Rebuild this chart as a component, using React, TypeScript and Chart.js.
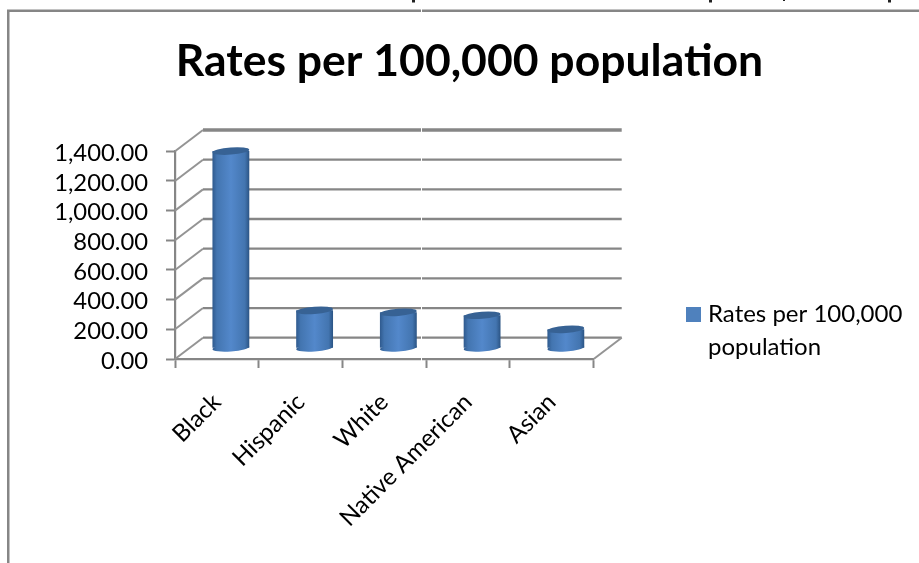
import React, { useEffect, useRef } from "react";
import { Chart, registerables } from "chart.js";

Chart.register(...registerables);

const categories = ["Black", "Hispanic", "White", "Native American", "Asian"];
const seriesName = "Rates per 100,000 population";
const legendLines = ["Rates per 100,000", "population"];
const rates = [1330, 256, 243, 223, 128];

const FONT = "Lato, Carlito, Calibri, sans-serif";
const GREY = "#868686";
const BLUE = "#4F81BD";
const DEPTH_X = 28;
const DEPTH_Y = 21.3;
const TITLE_SIZE = 44.5;
const LABEL_SIZE = 24;

const cylinderGradient = (ctx: any, cx: number, rx: number) => {
  const g = ctx.createLinearGradient(cx - rx, 0, cx + rx, 0);
  g.addColorStop(0, "#2f5a8e");
  g.addColorStop(0.12, "#4375b0");
  g.addColorStop(0.5, "#5388cb");
  g.addColorStop(0.88, "#4375b0");
  g.addColorStop(1, "#2b5484");
  return g;
};

const frame3d = {
  id: "frame3d",
  afterLayout(chart: any) {
    const t = chart.titleBlock;
    if (t) {
      t.left = 20;
      t.right = 919;
      t.top = 39.5;
    }
    const l = chart.legend;
    if (l) {
      l.left = 696;
      l.right = 919;
      l.top = 302;
      l.bottom = 563;
    }
  },
  beforeDraw(chart: any) {
    const { ctx, width, height } = chart;
    ctx.save();
    ctx.fillStyle = "#ffffff";
    ctx.fillRect(0, 0, width, height);
    ctx.strokeStyle = GREY;
    ctx.lineWidth = 2.5;
    ctx.beginPath();
    ctx.moveTo(8.25, height);
    ctx.lineTo(8.25, 10.75);
    ctx.lineTo(width, 10.75);
    ctx.stroke();
    // the feet of a cut-off line of text above the frame
    ctx.fillStyle = "#222222";
    [412, 709, 783, 888].forEach((x, i) => ctx.fillRect(x, 0, i === 2 ? 2 : 3, i === 2 ? 1 : 2.5));
    // legend swatch
    ctx.fillStyle = BLUE;
    ctx.fillRect(686, 307, 15, 15);
    ctx.restore();
  },
  beforeDatasetsDraw(chart: any) {
    const { ctx, chartArea, scales } = chart;
    const { left, right } = chartArea;
    const y = scales.y;
    ctx.save();
    ctx.strokeStyle = GREY;
    y.ticks.forEach((tick: any, i: number) => {
      const py = y.getPixelForValue(tick.value);
      const isTop = i === y.ticks.length - 1;
      ctx.lineWidth = isTop ? 3.4 : 2.3;
      ctx.beginPath();
      ctx.moveTo(left + DEPTH_X, py - DEPTH_Y);
      ctx.lineTo(right + DEPTH_X, py - DEPTH_Y);
      ctx.stroke();
      ctx.lineWidth = 2;
      ctx.strokeStyle = "#949494";
      ctx.beginPath();
      ctx.moveTo(left, py);
      ctx.lineTo(left + DEPTH_X, py - DEPTH_Y);
      ctx.stroke();
      ctx.strokeStyle = GREY;
    });
    const y0 = y.getPixelForValue(0);
    ctx.lineWidth = 2;
    ctx.strokeStyle = "#949494";
    ctx.beginPath();
    ctx.moveTo(right, y0);
    ctx.lineTo(right + DEPTH_X, y0 - DEPTH_Y);
    ctx.stroke();
    ctx.restore();
  },
  beforeDatasetDraw(chart: any) {
    chart.ctx.save();
    chart.ctx.translate(DEPTH_X / 2, -DEPTH_Y / 2);
  },
  afterDatasetDraw(chart: any, args: any) {
    const { ctx } = chart;
    const meta = chart.getDatasetMeta(args.index);
    meta.data.forEach((bar: any) => {
      const p = bar.getProps(["x", "y", "base", "width"], true);
      const rx = p.width / 2;
      const ry = 3.6;
      const tilt = -0.075;
      ctx.fillStyle = cylinderGradient(ctx, p.x, rx);
      ctx.beginPath();
      ctx.ellipse(p.x, p.base, rx, ry, tilt, 0, Math.PI * 2);
      ctx.fill();
      ctx.fillStyle = "#376294";
      ctx.beginPath();
      ctx.ellipse(p.x, p.y, rx, ry, tilt, 0, Math.PI * 2);
      ctx.fill();
    });
    ctx.restore();
  },
  afterDraw(chart: any) {
    const { ctx } = chart;
    ctx.save();
    ctx.strokeStyle = "#ffffff";
    ctx.lineWidth = 1;
    ctx.beginPath();
    ctx.moveTo(421.5, 9);
    ctx.lineTo(421.5, 13);
    ctx.moveTo(421.5, 126);
    ctx.lineTo(421.5, 362);
    ctx.stroke();
    ctx.restore();
  },
};

export default function App() {
  const ref = useRef<HTMLCanvasElement>(null);
  useEffect(() => {
    const chart = new Chart(ref.current as HTMLCanvasElement, {
      type: "bar",
      data: {
        labels: categories,
        datasets: [
          {
            label: seriesName,
            data: rates,
            clip: false,
            barPercentage: 1,
            categoryPercentage: 0.44,
            borderWidth: 0,
            backgroundColor: (c: any) => {
              const scale = c.chart.scales.x;
              const cx = scale ? scale.getPixelForValue(c.dataIndex) : NaN;
              if (!Number.isFinite(cx)) return BLUE;
              return cylinderGradient(c.chart.ctx, cx, 18.4);
            },
          },
        ],
      },
      options: {
        animation: false,
        responsive: false,
        layout: {
          autoPadding: false,
          padding: { left: 20, right: 325.3, top: 0, bottom: 0 },
        },
        plugins: {
          tooltip: { enabled: false },
          title: {
            display: true,
            text: seriesName,
            color: "#000000",
            font: { family: FONT, size: TITLE_SIZE, weight: "bold", lineHeight: 1 },
            padding: { top: 0, bottom: 151.3 - TITLE_SIZE },
          },
          legend: {
            display: true,
            position: "chartArea",
            align: "start",
            labels: {
              boxWidth: 0,
              boxHeight: 0,
              padding: 0,
              color: "#000000",
              font: { family: FONT, size: LABEL_SIZE, lineHeight: 33 / LABEL_SIZE },
              generateLabels: () => [
                {
                  text: legendLines,
                  fillStyle: BLUE,
                  strokeStyle: BLUE,
                  lineWidth: 0,
                  datasetIndex: 0,
                },
              ],
            },
          },
        },
        scales: {
          x: {
            position: "bottom",
            afterFit: (s: any) => {
              s.height = 563 - 359;
            },
            grid: {
              drawOnChartArea: false,
              drawTicks: true,
              tickLength: 9,
              tickColor: GREY,
              tickWidth: 2,
            },
            border: { display: true, color: GREY, width: 2.2 },
            ticks: {
              color: "#000000",
              font: { family: FONT, size: LABEL_SIZE },
              minRotation: 45,
              maxRotation: 45,
              autoSkip: false,
              padding: 20,
            },
          },
          y: {
            position: "left",
            min: 0,
            max: 1400,
            afterFit: (s: any) => {
              s.width = 155;
            },
            grid: {
              drawOnChartArea: false,
              drawTicks: true,
              tickLength: 9,
              tickColor: GREY,
              tickWidth: 2,
            },
            border: { display: true, color: GREY, width: 2.2 },
            ticks: {
              stepSize: 200,
              autoSkip: false,
              color: "#000000",
              padding: 18,
              labelOffset: 2,
              font: { family: FONT, size: 23.8 },
              callback: (v: any) =>
                Number(v).toLocaleString("en-US", {
                  minimumFractionDigits: 2,
                  maximumFractionDigits: 2,
                }),
            },
          },
        },
      },
      plugins: [frame3d],
    } as any);
    return () => chart.destroy();
  }, []);
  return (
    <div style={{ position: "fixed", left: 0, top: 0, width: 919, height: 563 }}>
      <canvas ref={ref} width={919} height={563} style={{ display: "block" }} />
    </div>
  );
}
